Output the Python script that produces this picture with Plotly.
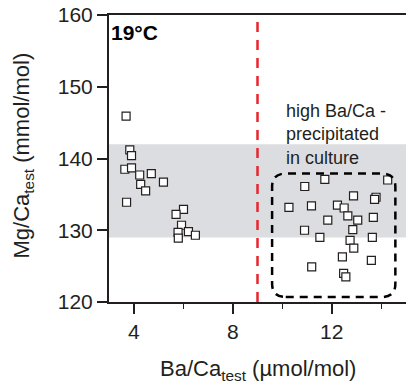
import plotly.graph_objects as go

# ---- data ----
ba_low = [3.69, 3.84, 3.91, 3.64, 3.91, 4.24, 4.71, 5.20, 4.28, 4.48, 3.71,
          6.01, 5.71, 5.93, 6.21, 5.79, 6.49, 5.80]
mg_low = [145.9, 141.2, 140.4, 138.5, 138.7, 137.7, 137.9, 136.7, 136.4, 135.5, 133.9,
          132.9, 132.2, 130.7, 129.8, 129.7, 129.3, 128.9]

ba_high = [11.72, 14.26, 10.91, 12.88, 13.79, 13.73, 10.27, 11.18, 12.23, 12.50,
           12.65, 11.84, 13.05, 13.68, 10.90, 12.85, 11.52, 12.74, 13.64, 12.89,
           12.43, 13.60, 11.19, 12.48, 12.57]
mg_high = [137.1, 137.0, 136.1, 134.8, 134.6, 134.3, 133.2, 133.4, 133.5, 133.1,
           132.0, 131.4, 131.4, 131.8, 130.0, 130.1, 129.0, 128.6, 129.0, 127.5,
           126.3, 125.8, 124.9, 124.0, 123.5]

x_range = [3, 15]
y_range = [120, 160]
x_ticks = [4, 8, 12]
x_minor = [6, 10, 14]
y_ticks = [120, 130, 140, 150, 160]
band = [129, 142]          # grey band of Mg/Ca
threshold = 9              # red dashed line
box_x = [9.59, 14.57]      # dashed rounded box
box_y = [120.7, 137.9]
rx, ry = 0.55, 1.85        # corner radius in data units

AX = "#231f20"
FONT = "Liberation Sans, Arial, sans-serif"

fig = go.Figure()
fig.add_trace(go.Scatter(
    x=ba_low + ba_high, y=mg_low + mg_high, mode="markers",
    marker=dict(symbol="square", size=8, color="white",
                line=dict(color=AX, width=1.2)),
    showlegend=False, cliponaxis=False))

# grey band
fig.add_shape(type="rect", xref="paper", yref="y", x0=0, x1=1,
              y0=band[0], y1=band[1], fillcolor="#dcdde0",
              line=dict(width=0), layer="below")
# red threshold
fig.add_shape(type="line", xref="x", yref="paper", x0=threshold, x1=threshold,
              y0=0, y1=0.99, line=dict(color="#e8262e", width=2.5, dash="10px,8px"))
# rounded dashed box
x0, x1 = box_x
y0, y1 = box_y
path = (f"M {x0+rx},{y0} L {x1-rx},{y0} Q {x1},{y0} {x1},{y0+ry} "
        f"L {x1},{y1-ry} Q {x1},{y1} {x1-rx},{y1} "
        f"L {x0+rx},{y1} Q {x0},{y1} {x0},{y1-ry} "
        f"L {x0},{y0+ry} Q {x0},{y0} {x0+rx},{y0} Z")
fig.add_shape(type="path", path=path, xref="x", yref="y",
              line=dict(color="black", width=2.5, dash="8px,6px"))

fig.add_annotation(text="<b>19°C</b>", xref="paper", yref="paper",
                   x=0.0, y=0.985, xanchor="left", yanchor="top",
                   showarrow=False, font=dict(size=21, color="black", family=FONT))
fig.add_annotation(text="high Ba/Ca -<br>precipitated<br>in culture",
                   xref="paper", yref="paper", x=0.59, y=0.708,
                   xanchor="left", yanchor="top", align="left",
                   showarrow=False, font=dict(size=18, color="#231f20", family=FONT))
# axis titles
fig.add_annotation(text="Ba/Ca<sub>test</sub> (µmol/mol)", xref="paper", yref="paper",
                   x=0.5, y=-0.238, xanchor="center", yanchor="middle",
                   showarrow=False, font=dict(size=22, color="#231f20", family=FONT))
fig.add_annotation(text="Mg/Ca<sub>test</sub> (mmol/mol)", xref="paper", yref="paper",
                   x=-0.29, y=0.51, xanchor="center", yanchor="middle", textangle=-90,
                   showarrow=False, font=dict(size=22, color="#231f20", family=FONT))

fig.update_xaxes(range=x_range, tickvals=x_ticks, ticks="outside", ticklen=10,
                 tickwidth=1.5, tickcolor=AX, showline=True, linecolor=AX,
                 linewidth=2, mirror=True, showgrid=False, zeroline=False,
                 tickfont=dict(size=21, color="#231f20", family=FONT),
                 minor=dict(tickvals=x_minor, ticks="outside", ticklen=5,
                            tickwidth=1, tickcolor=AX, showgrid=False))
fig.update_yaxes(range=y_range, tickvals=y_ticks, ticks="outside", ticklen=10,
                 tickwidth=1.5, tickcolor=AX, showline=True, linecolor=AX,
                 linewidth=2, showgrid=False, zeroline=False,
                 tickfont=dict(size=21, color="#231f20", family=FONT))

fig.update_layout(width=406, height=384, margin=dict(l=109, r=0, t=15, b=82),
                  plot_bgcolor="white", paper_bgcolor="white",
                  font=dict(family=FONT))
fig.write_html("out.html")
